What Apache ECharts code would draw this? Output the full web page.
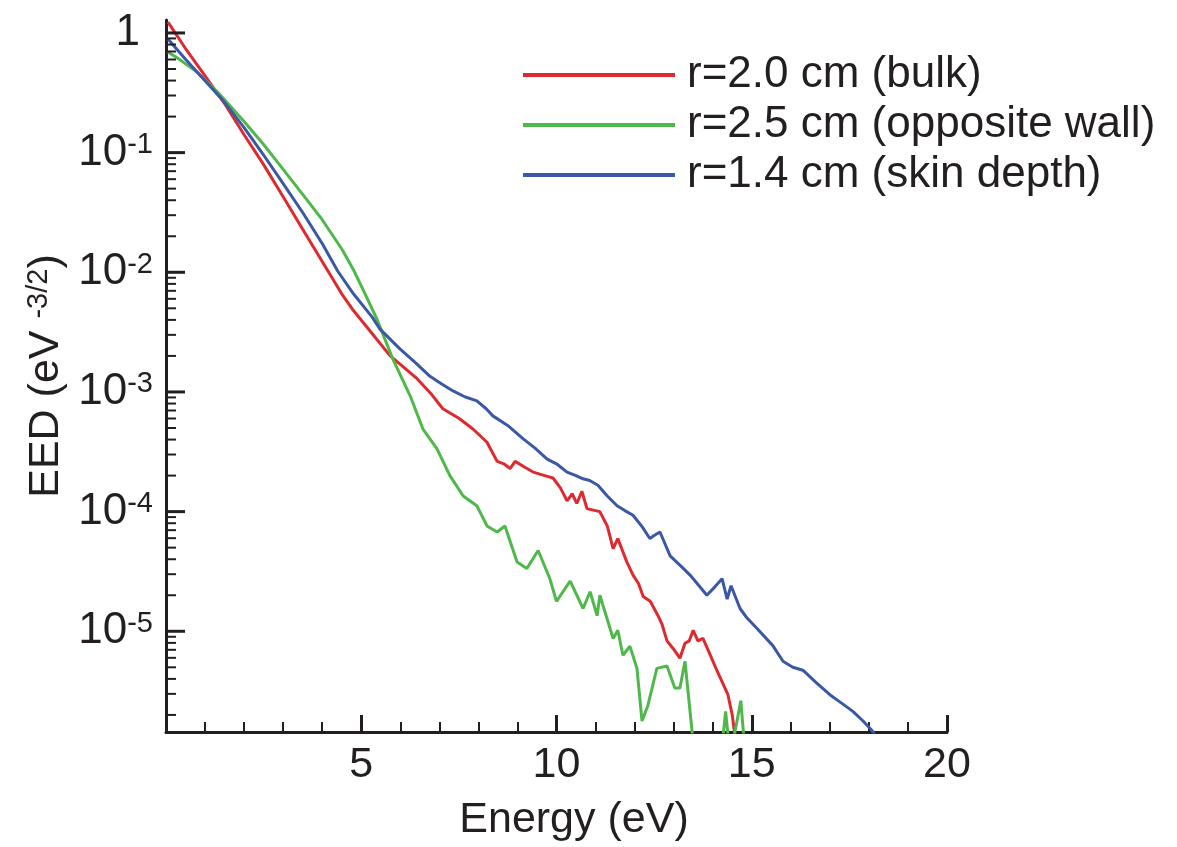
<!DOCTYPE html>
<html>
<head>
<meta charset="utf-8">
<script src="https://cdn.jsdelivr.net/npm/echarts@6/dist/echarts.min.js"></script>
<style>
html,body{margin:0;padding:0;background:#fff;}
#chart{width:1177px;height:847px;}
</style>
</head>
<body>
<div id="chart"></div>
<script>
// ---------- data ----------
const seriesNames = ['r=2.0 cm (bulk)', 'r=2.5 cm (opposite wall)', 'r=1.4 cm (skin depth)'];
const seriesColors = ['#de2a2e', '#4fb84b', '#3a58a5'];

const bulkEnergy = [0.05,0.5,1.0,1.5,2.0,2.5,3.0,3.5,4.0,4.5,4.8,5.2,5.74,6.0,6.43,6.8,7.09,7.5,7.86,8.22,8.48,8.65,8.81,8.94,9.2,9.4,9.7,9.91,10.1,10.27,10.4,10.52,10.65,10.78,11.11,11.3,11.45,11.57,11.8,11.96,12.1,12.22,12.4,12.6,12.7,12.83,13.0,13.16,13.29,13.4,13.5,13.62,13.75,13.9,14.11,14.25,14.39,14.5,14.6];
const bulkEED = [1.23,0.741,0.437,0.257,0.141,0.0794,0.0427,0.0229,0.0123,6.61e-3,4.79e-3,3.31e-3,2.0e-3,1.70e-3,1.29e-3,9.55e-4,7.24e-4,6.03e-4,4.90e-4,3.80e-4,2.63e-4,2.51e-4,2.29e-4,2.63e-4,2.34e-4,2.14e-4,2.0e-4,1.91e-4,1.58e-4,1.23e-4,1.41e-4,1.17e-4,1.48e-4,1.06e-4,1.0e-4,7.59e-5,4.90e-5,5.96e-5,3.80e-5,2.95e-5,2.51e-5,1.95e-5,1.78e-5,1.35e-5,1.15e-5,8.32e-6,7.08e-6,5.96e-6,7.94e-6,8.32e-6,1.02e-5,8.32e-6,8.71e-6,6.76e-6,4.68e-6,3.72e-6,2.95e-6,2.0e-6,1.12e-6];

const wallEnergy = [0.05,0.36,0.8,1.31,2.0,2.5,3.0,3.6,4.0,4.51,4.8,5.04,5.4,5.81,6.25,6.58,6.94,7.27,7.61,7.96,8.22,8.48,8.68,8.99,9.24,9.53,9.83,10.0,10.35,10.68,10.86,11.04,11.11,11.45,11.57,11.7,11.88,12.06,12.19,12.34,12.57,12.83,13.03,13.16,13.29,13.47,13.55,14.2,14.33,14.45,14.72,14.85];
const wallEED = [0.692,0.596,0.468,0.324,0.182,0.117,0.0724,0.0407,0.0275,0.0155,0.0105,7.24e-3,4.07e-3,1.88e-3,9.33e-4,4.90e-4,3.35e-4,2.0e-4,1.35e-4,1.12e-4,7.59e-5,6.76e-5,7.59e-5,3.80e-5,3.35e-5,4.73e-5,2.75e-5,1.78e-5,2.63e-5,1.55e-5,2.14e-5,1.35e-5,2.0e-5,8.71e-6,1.02e-5,6.31e-6,7.5e-6,4.90e-6,1.78e-6,2.40e-6,4.90e-6,5.13e-6,3.35e-6,3.35e-6,5.62e-6,1.48e-6,8e-7,8e-7,2.14e-6,9e-7,2.63e-6,8e-7];

const skinEnergy = [0.05,0.5,1.0,1.5,2.0,2.5,3.0,3.5,4.0,4.4,4.8,5.28,5.48,5.99,6.4,6.76,7.05,7.35,7.65,7.96,8.2,8.37,8.75,9.14,9.45,9.76,10.0,10.27,10.5,10.68,10.85,11.06,11.3,11.55,11.75,11.96,12.2,12.39,12.5,12.65,12.91,13.2,13.42,13.65,13.85,14.05,14.24,14.37,14.47,14.7,14.88,15.13,15.54,15.8,16.05,16.31,16.65,17.0,17.3,17.59,17.85,18.08,18.2];
const skinEED = [0.891,0.603,0.398,0.263,0.162,0.0955,0.055,0.0316,0.0174,0.0102,6.61e-3,4.22e-3,3.35e-3,2.29e-3,1.74e-3,1.35e-3,1.17e-3,1.02e-3,9.12e-4,8.41e-4,7.24e-4,6.31e-4,5.25e-4,4.07e-4,3.39e-4,2.75e-4,2.51e-4,2.14e-4,2.0e-4,1.88e-4,1.82e-4,1.66e-4,1.35e-4,1.12e-4,1.02e-4,9.33e-5,7.41e-5,5.96e-5,6.31e-5,6.76e-5,4.27e-5,3.47e-5,2.95e-5,2.40e-5,2.0e-5,2.34e-5,2.75e-5,1.86e-5,2.40e-5,1.55e-5,1.29e-5,1.06e-5,7.59e-6,5.62e-6,5.01e-6,4.73e-6,3.72e-6,2.95e-6,2.51e-6,2.14e-6,1.78e-6,1.48e-6,1.3e-6];

// axis settings
const xMin = 0, xMax = 20, xMajorInterval = 5, xMinorInterval = 1;
const yMin = 1.44e-6, yMax = 1.283;
const yMajorExponents = [0, -1, -2, -3, -4, -5];
const yMinorMultipliers = [2, 3, 4, 5, 6, 7, 8, 9];

const INK = '#231f20';
const FONT = '"Liberation Sans", Arial, Helvetica, sans-serif';

function zip(a, b) { return a.map((v, i) => [v, b[i]]); }

// tick data for the log axis (major at decades, minor at 2..9 x decade)
const yTickData = [];
yMajorExponents.forEach(e => yTickData.push([0, Math.pow(10, e), 1]));
for (let e = 0; e >= -6; e--) {
  yMinorMultipliers.forEach(m => {
    const v = m * Math.pow(10, e);
    if (v > yMin && v < yMax) yTickData.push([0, v, 0]);
  });
}

const chart = echarts.init(document.getElementById('chart'), null, {renderer: 'canvas'});

const lineSeries = [
  {name: seriesNames[0], data: zip(bulkEnergy, bulkEED), color: seriesColors[0]},
  {name: seriesNames[1], data: zip(wallEnergy, wallEED), color: seriesColors[1]},
  {name: seriesNames[2], data: zip(skinEnergy, skinEED), color: seriesColors[2]}
].map(s => ({
  type: 'line', name: s.name, data: s.data, xAxisIndex: 0, yAxisIndex: 0,
  showSymbol: false, symbol: 'none', clip: true, z: 3,
  itemStyle: {color: s.color},
  lineStyle: {color: s.color, width: 3}
}));

const option = {
  animation: false,
  backgroundColor: '#ffffff',
  textStyle: {fontFamily: FONT, color: INK},
  grid: {left: 166, right: 230, top: 20, bottom: 113, containLabel: false},
  legend: {
    data: seriesNames,
    orient: 'vertical',
    left: 518,
    top: 48,
    icon: 'rect',
    itemWidth: 152,
    itemHeight: 4,
    itemGap: 6,
    selectedMode: false,
    textStyle: {fontFamily: FONT, fontSize: 44, lineHeight: 43, color: INK, padding: [0, 0, 0, 7]}
  },
  xAxis: [
    {
      type: 'value', min: xMin, max: xMax, interval: xMajorInterval, position: 'bottom',
      name: 'Energy (eV)', nameLocation: 'middle', nameGap: 67,
      nameTextStyle: {fontFamily: FONT, fontSize: 43, color: INK, padding: [0, 0, 0, 35]},
      axisLine: {show: true, onZero: false, lineStyle: {color: INK, width: 3}},
      axisTick: {show: true, inside: true, length: 17, lineStyle: {color: INK, width: 3}},
      axisLabel: {fontFamily: FONT, fontSize: 43, color: INK, margin: 12,
        formatter: v => (v === 0 ? '' : String(v))},
      splitLine: {show: false}
    },
    {
      type: 'value', min: xMin, max: xMax, interval: xMinorInterval, position: 'bottom',
      axisLine: {show: false, onZero: false},
      axisTick: {show: true, inside: true, length: 10, lineStyle: {color: INK, width: 2}},
      axisLabel: {show: false},
      splitLine: {show: false}
    }
  ],
  yAxis: [{
    type: 'log', logBase: 10, min: yMin, max: yMax,
    name: 'EED (eV {sup|-3/2})', nameLocation: 'middle', nameRotate: 90, nameGap: 97,
    nameTextStyle: {fontFamily: FONT, fontSize: 43, color: INK,
      rich: {sup: {fontFamily: FONT, fontSize: 29, lineHeight: 29, verticalAlign: 'top', color: INK}}},
    axisLine: {show: true, onZero: false, lineStyle: {color: INK, width: 3}},
    axisTick: {show: false},
    minorTick: {show: false},
    splitLine: {show: false},
    axisLabel: {
      margin: 13, color: INK, fontFamily: FONT,
      formatter: function (v) {
        const l = Math.log10(v);
        const e = Math.round(l);
        if (Math.abs(l - e) > 1e-6) return '';
        if (e === 0) return '{one|1}';
        return '{base|10}{sup|' + e + '}';
      },
      rich: {
        base: {fontFamily: FONT, fontSize: 44, lineHeight: 44, color: INK},
        sup: {fontFamily: FONT, fontSize: 29, lineHeight: 29, verticalAlign: 'top', color: INK},
        one: {fontFamily: FONT, fontSize: 44, lineHeight: 44, color: INK, padding: [0, 13, 0, 0]}
      }
    }
  }],
  series: lineSeries.concat([{
    type: 'custom',
    name: 'yTicks',
    xAxisIndex: 0, yAxisIndex: 0,
    silent: true, z: 5,
    encode: {x: 0, y: 1},
    data: yTickData,
    renderItem: function (params, api) {
      const major = api.value(2) === 1;
      const p = api.coord([api.value(0), api.value(1)]);
      return {
        type: 'line',
        shape: {x1: p[0], y1: p[1], x2: p[0] + (major ? 19 : 10), y2: p[1]},
        style: {stroke: INK, lineWidth: major ? 3 : 2}
      };
    }
  }])
};

chart.setOption(option);
</script>
</body>
</html>
